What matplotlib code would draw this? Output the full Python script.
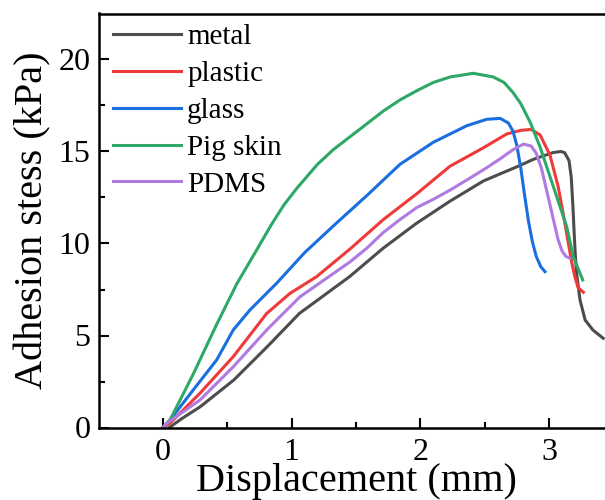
import numpy as np
import matplotlib
matplotlib.use("Agg")
import matplotlib.pyplot as plt

plt.rcParams['font.family'] = ['Liberation Serif', 'DejaVu Serif']

# displacement (mm) / adhesion stress (kPa)
metal_x = [0.05, 0.15, 0.29, 0.55, 0.81, 1.06, 1.45, 1.71, 1.97, 2.23, 2.49, 2.75, 2.88,
           3.03, 3.09, 3.12, 3.155, 3.172, 3.185, 3.195, 3.205, 3.215, 3.24, 3.28, 3.34, 3.42]
metal_y = [0.0, 0.5, 1.13, 2.58, 4.39, 6.2, 8.2, 9.74, 11.1, 12.3, 13.4, 14.17, 14.58,
           14.94, 15.0, 14.94, 14.5, 13.6, 12.0, 10.5, 9.2, 8.3, 6.93, 5.84, 5.3, 4.85]

plastic_x = [0.0, 0.054, 0.287, 0.546, 0.806, 0.987, 1.194, 1.453, 1.712, 1.971, 2.23, 2.489,
             2.67, 2.78, 2.86, 2.93, 3.007, 3.07, 3.11, 3.145, 3.175, 3.2, 3.225, 3.266]
plastic_y = [0.0, 0.23, 1.86, 3.85, 6.2, 7.29, 8.2, 9.7, 11.3, 12.7, 14.2, 15.2,
             15.95, 16.15, 16.2, 15.9, 14.8, 13.1, 11.6, 10.2, 9.0, 8.2, 7.6, 7.35]

glass_x = [0.0, 0.054, 0.235, 0.417, 0.546, 0.676, 0.883, 1.1, 1.323, 1.583, 1.841, 2.1,
           2.36, 2.515, 2.62, 2.683, 2.72, 2.75, 2.78, 2.81, 2.84, 2.87, 2.9, 2.935, 2.968]
glass_y = [0.0, 0.4, 2.04, 3.67, 5.3, 6.39, 7.84, 9.5, 10.95, 12.6, 14.3, 15.5,
           16.4, 16.75, 16.8, 16.55, 16.1, 15.3, 14.1, 12.6, 11.2, 10.1, 9.3, 8.74, 8.47]

pig_x = [0.0, 0.054, 0.235, 0.417, 0.573, 0.728, 0.84, 0.94, 1.04, 1.2, 1.323, 1.453, 1.583,
         1.712, 1.841, 1.971, 2.1, 2.23, 2.41, 2.567, 2.65, 2.72, 2.78, 2.852, 2.929,
         3.033, 3.137, 3.188, 3.261]
pig_y = [0.0, 0.4, 2.9, 5.6, 7.8, 9.65, 11.0, 12.1, 13.0, 14.3, 15.1, 15.8, 16.5,
         17.2, 17.8, 18.3, 18.75, 19.05, 19.25, 19.05, 18.75, 18.2, 17.6, 16.6, 15.26,
         13.09, 10.91, 9.28, 8.02]

pdms_x = [0.0, 0.03, 0.287, 0.546, 0.806, 1.064, 1.453, 1.583, 1.712, 1.841, 1.971, 2.1,
          2.23, 2.36, 2.5, 2.619, 2.72, 2.8, 2.86, 2.9, 2.94, 2.97, 3.007, 3.04, 3.07,
          3.1, 3.13, 3.16]
pdms_y = [0.0, 0.23, 1.49, 3.3, 5.3, 7.1, 9.0, 9.74, 10.6, 11.3, 11.95, 12.4,
          12.9, 13.45, 14.05, 14.6, 15.1, 15.4, 15.3, 14.9, 14.1, 13.2, 12.1, 11.1, 10.2,
          9.6, 9.3, 9.2]

series = [
    ("metal", metal_x, metal_y, "#4d4d4d"),
    ("plastic", plastic_x, plastic_y, "#f03a3a"),
    ("glass", glass_x, glass_y, "#1a6fe0"),
    ("Pig skin", pig_x, pig_y, "#2ea866"),
    ("PDMS", pdms_x, pdms_y, "#b07ae0"),
]

fig = plt.figure(figsize=(6.05, 5.0), dpi=100)
ax = fig.add_axes([0.163, 0.145, 0.851, 0.828])

for name, xs, ys, c in series:
    ax.plot(xs, ys, color=c, lw=2.2, label=name, solid_joinstyle='round')

ax.set_xlim(-0.5, 3.5)
ax.set_ylim(0, 22.5)
ax.set_xticks([0, 1, 2, 3])
ax.set_yticks([0, 5, 10, 15, 20])
ax.set_xticks([0.5, 1.5, 2.5], minor=True)
ax.set_yticks([2.5, 7.5, 12.5, 17.5], minor=True)
ax.tick_params(which='both', direction='in', width=1.5, labelsize=23)
ax.tick_params(which='major', length=7)
ax.tick_params(which='minor', length=4)
ax.tick_params(axis='x', pad=7.5)
ax.tick_params(axis='y', pad=6)
for s in ax.spines.values():
    s.set_linewidth(1.8)
ax.spines['right'].set_visible(False)

ax.set_xlabel("Displacement (mm)", fontsize=29, labelpad=-3)
ax.set_ylabel("Adhesion stess (kPa)", fontsize=29, labelpad=5)

ax.legend(loc='upper left', bbox_to_anchor=(-0.012, 1.025), frameon=False, fontsize=21,
          handlelength=2.35, handletextpad=0.2, labelspacing=0.36, borderaxespad=0.3)

fig.savefig("out.png", dpi=100)
